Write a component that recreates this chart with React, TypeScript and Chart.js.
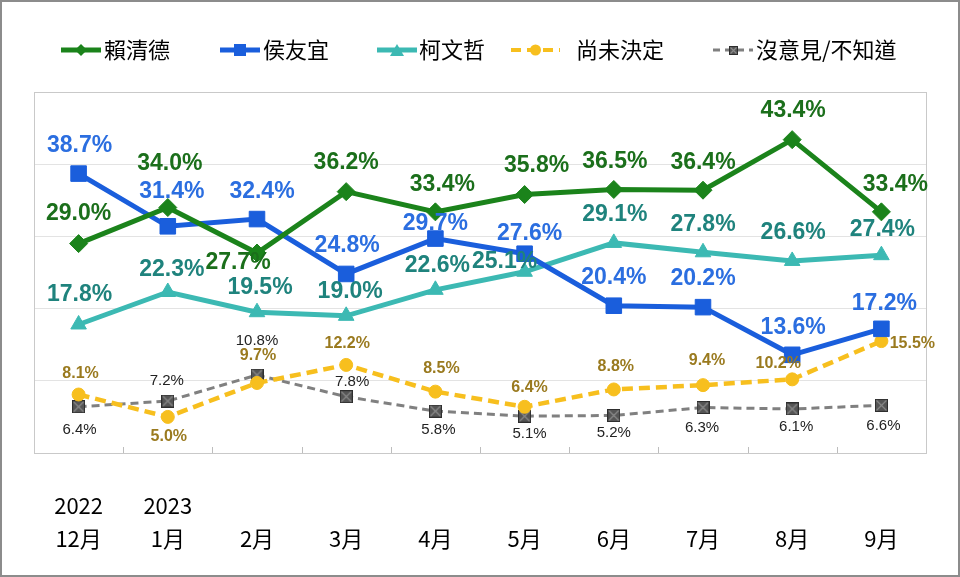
import { useEffect, useRef } from 'react';
import { Chart, registerables } from 'chart.js';

Chart.register(...registerables);

// ---- data ----
const months = ['12月', '1月', '2月', '3月', '4月', '5月', '6月', '7月', '8月', '9月'];
const years = ['2022', '2023', '', '', '', '', '', '', '', ''];

const lai = [29.0, 34.0, 27.7, 36.2, 33.4, 35.8, 36.5, 36.4, 43.4, 33.4];
const hou = [38.7, 31.4, 32.4, 24.8, 29.7, 27.6, 20.4, 20.2, 13.6, 17.2];
const ko = [17.8, 22.3, 19.5, 19.0, 22.6, 25.1, 29.1, 27.8, 26.6, 27.4];
const undecided = [8.1, 5.0, 9.7, 12.2, 8.5, 6.4, 8.8, 9.4, 10.2, 15.5];
const noOpinion = [6.4, 7.2, 10.8, 7.8, 5.8, 5.1, 5.2, 6.3, 6.1, 6.6];

const seriesNames = ['賴清德', '侯友宜', '柯文哲', '尚未決定', '沒意見/不知道'];

// ---- label placement (layout, offsets from the point in px) ----
const laiOffsets = [[0, -30], [2, -44], [-19, 10], [0, -29], [7, -27], [12, -29], [1, -28], [0, -28], [1, -29], [14, -27]];
const houOffsets = [[1, -28], [4, -35], [5, -27], [1, -28], [0, -15], [5, -20], [0, -28], [0, -28], [1, -27], [3, -25]];
const koOffsets = [[1, -30], [4, -22], [3, -25], [4, -24], [2, -24], [-20, -10], [1, -28], [0, -28], [1, -28], [1, -26]];
const undecidedOffsets = [[2, -21], [1, 20], [1, -27], [1, -21], [6, -23], [5, -19], [2, -23], [4, -25], [-14, -16], [31, 3]];
const noOpinionOffsets = [[1, 23], [-1, -20], [0, -34], [6, -15], [3, 19], [5, 18], [0, 17], [-1, 20], [4, 18], [2, 21]];

const GREEN = '#1b831b';
const BLUE = '#1a5edc';
const CYAN = '#3cb9b3';
const YELLOW = '#f7bf1e';
const GRAY = '#808080';

const labelStyles = [
  { color: '#1b6f1b', font: 'bold 23px "Liberation Sans", Arial, sans-serif', offsets: laiOffsets },
  { color: '#2b6ee0', font: 'bold 23px "Liberation Sans", Arial, sans-serif', offsets: houOffsets },
  { color: '#1f837d', font: 'bold 23px "Liberation Sans", Arial, sans-serif', offsets: koOffsets },
  { color: '#9a7a1f', font: 'bold 16px "Liberation Sans", Arial, sans-serif', offsets: undecidedOffsets },
  { color: '#222222', font: '15px "Liberation Sans", Arial, sans-serif', offsets: noOpinionOffsets },
];

function makeBoxX(size: number): HTMLCanvasElement {
  const c = document.createElement('canvas');
  c.width = size;
  c.height = size;
  const g = c.getContext('2d')!;
  g.fillStyle = '#555555';
  g.fillRect(0, 0, size, size);
  g.strokeStyle = '#2e2e2e';
  g.lineWidth = 1;
  g.strokeRect(0.5, 0.5, size - 1, size - 1);
  g.strokeStyle = '#8a8a8a';
  g.lineWidth = 1.2;
  g.beginPath();
  g.moveTo(1.5, 1.5);
  g.lineTo(size - 1.5, size - 1.5);
  g.moveTo(size - 1.5, 1.5);
  g.lineTo(1.5, size - 1.5);
  g.stroke();
  return c;
}

export default function App() {
  const ref = useRef<HTMLCanvasElement | null>(null);

  useEffect(() => {
    document.body.style.margin = '0';
    const canvas = ref.current!;
    const boxX = makeBoxX(13);
    const boxXSmall = makeBoxX(9);

    const valueLabels = {
      id: 'valueLabels',
      afterDatasetsDraw(chart: any) {
        const ctx = chart.ctx;
        chart.data.datasets.forEach((ds: any, di: number) => {
          const meta = chart.getDatasetMeta(di);
          const st = labelStyles[di];
          ctx.save();
          ctx.font = st.font;
          ctx.fillStyle = st.color;
          ctx.textAlign = 'center';
          ctx.textBaseline = 'middle';
          meta.data.forEach((pt: any, i: number) => {
            const [dx, dy] = st.offsets[i];
            ctx.fillText(Number(ds.data[i]).toFixed(1) + '%', pt.x + dx, pt.y + dy);
          });
          ctx.restore();
        });
      },
    };

    const frame = {
      id: 'frame',
      beforeDatasetsDraw(chart: any) {
        const { ctx, chartArea } = chart;
        const xs = chart.scales.x;
        ctx.save();
        ctx.strokeStyle = '#c9c9c9';
        ctx.lineWidth = 1;
        ctx.strokeRect(Math.round(chartArea.left) + 0.5, Math.round(chartArea.top) + 0.5,
          Math.round(chartArea.right - chartArea.left), Math.round(chartArea.bottom - chartArea.top));
        ctx.strokeStyle = '#bdbdbd';
        ctx.beginPath();
        for (let k = 1; k < months.length; k++) {
          const x = Math.round((xs.getPixelForValue(k - 1) + xs.getPixelForValue(k)) / 2) + 0.5;
          ctx.moveTo(x, chartArea.bottom - 6);
          ctx.lineTo(x, chartArea.bottom);
        }
        ctx.stroke();
        ctx.restore();
      },
      afterDraw(chart: any) {
        const { ctx, width, height } = chart;
        ctx.save();
        ctx.strokeStyle = '#8c8c8c';
        ctx.lineWidth = 2;
        ctx.strokeRect(1, 1, width - 2, height - 2);
        ctx.restore();
      },
    };

    const legendItems = [
      { x: 61, len: 40, tx: 104, color: GREEN, dash: [] as number[], lw: 5, marker: 'diamond' },
      { x: 220, len: 40, tx: 263, color: BLUE, dash: [] as number[], lw: 5, marker: 'square' },
      { x: 377, len: 40, tx: 419, color: CYAN, dash: [] as number[], lw: 5, marker: 'triangle' },
      { x: 511, len: 49, tx: 576, color: YELLOW, dash: [10, 6], lw: 4, marker: 'circle' },
      { x: 713, len: 40, tx: 756, color: GRAY, dash: [7, 5], lw: 3, marker: 'boxx' },
    ];

    const customLegend = {
      id: 'customLegend',
      afterDraw(chart: any) {
        const ctx = chart.ctx;
        const y = 50;
        ctx.save();
        legendItems.forEach((it, i) => {
          ctx.strokeStyle = it.color;
          ctx.lineWidth = it.lw;
          ctx.setLineDash(it.dash);
          ctx.beginPath();
          ctx.moveTo(it.x, y);
          ctx.lineTo(it.x + it.len, y);
          ctx.stroke();
          ctx.setLineDash([]);
          const cx = it.x + it.len / 2;
          ctx.fillStyle = it.color;
          ctx.beginPath();
          if (it.marker === 'diamond') {
            ctx.moveTo(cx, y - 6); ctx.lineTo(cx + 6, y); ctx.lineTo(cx, y + 6); ctx.lineTo(cx - 6, y); ctx.closePath(); ctx.fill();
          } else if (it.marker === 'square') {
            ctx.fillRect(cx - 6, y - 6, 12, 12);
          } else if (it.marker === 'triangle') {
            ctx.moveTo(cx, y - 6); ctx.lineTo(cx + 7, y + 6); ctx.lineTo(cx - 7, y + 6); ctx.closePath(); ctx.fill();
          } else if (it.marker === 'circle') {
            ctx.arc(cx, y, 5.5, 0, Math.PI * 2); ctx.fill();
          } else {
            ctx.drawImage(boxXSmall, Math.round(cx - 4.5), Math.round(y - 4.5));
          }
          ctx.fillStyle = '#000';
          ctx.font = '22px "Noto Sans CJK TC", sans-serif';
          ctx.textAlign = 'left';
          ctx.textBaseline = 'middle';
          ctx.fillText(seriesNames[i], it.tx, y);
        });
        ctx.restore();
      },
    };

    const chart = new Chart(canvas, {
      type: 'line',
      data: {
        labels: months.map((m, i) => [years[i], m]),
        datasets: [
          {
            label: seriesNames[0], data: lai, borderColor: GREEN, backgroundColor: GREEN, borderWidth: 5,
            pointStyle: 'rectRot', pointRadius: 9, pointBorderWidth: 1, pointBorderColor: GREEN, pointBackgroundColor: GREEN,
          },
          {
            label: seriesNames[1], data: hou, borderColor: BLUE, backgroundColor: BLUE, borderWidth: 5,
            pointStyle: 'rect', pointRadius: 11, pointBorderWidth: 1, pointBorderColor: BLUE, pointBackgroundColor: BLUE,
          },
          {
            label: seriesNames[2], data: ko, borderColor: CYAN, backgroundColor: CYAN, borderWidth: 5,
            pointStyle: 'triangle', pointRadius: 9, pointBorderWidth: 1, pointBorderColor: CYAN, pointBackgroundColor: CYAN,
          },
          {
            label: seriesNames[3], data: undecided, borderColor: YELLOW, backgroundColor: YELLOW, borderWidth: 4.5,
            borderDash: [11, 6], pointStyle: 'circle', pointRadius: 6.5, pointBorderWidth: 1,
            pointBorderColor: YELLOW, pointBackgroundColor: YELLOW,
          },
          {
            label: seriesNames[4], data: noOpinion, borderColor: GRAY, backgroundColor: GRAY, borderWidth: 3,
            borderDash: [8, 5], pointStyle: boxX as any, pointRadius: 7,
          },
        ],
      },
      options: {
        responsive: false,
        animation: false,
        devicePixelRatio: 1,
        layout: { padding: { left: 34, right: 34, top: 92, bottom: 0 } },
        plugins: { legend: { display: false }, tooltip: { enabled: false } },
        scales: {
          x: {
            type: 'category',
            offset: true,
            grid: { display: false },
            border: { display: false },
            ticks: {
              padding: 28,
              autoSkip: false,
              maxRotation: 0,
              color: '#000',
              font: { family: '"Noto Sans CJK TC", sans-serif', size: 22, lineHeight: 1.5 },
            },
            afterFit: (s: any) => { s.height = 124; },
          },
          y: {
            min: 0,
            max: 50,
            ticks: { display: false, stepSize: 10 },
            grid: { color: '#e3e3e3', lineWidth: 1, drawTicks: false },
            border: { display: false },
            afterFit: (s: any) => { s.width = 0; },
          },
        },
      },
      plugins: [frame, valueLabels, customLegend],
    });

    return () => chart.destroy();
  }, []);

  return (
    <div style={{ width: 960, height: 577 }}>
      <canvas ref={ref} width={960} height={577} style={{ display: 'block' }} />
    </div>
  );
}
